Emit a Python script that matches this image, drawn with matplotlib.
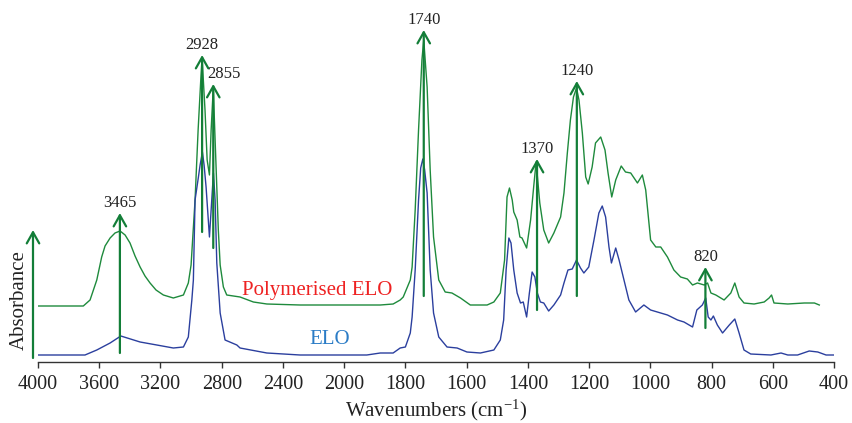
import numpy as np
import matplotlib.pyplot as plt

plt.rcParams['font.family'] = ['Liberation Serif', 'DejaVu Serif']
plt.rcParams['mathtext.default'] = 'regular'

# FTIR spectra (absorbance in arbitrary units, curves offset as in the figure)
poly_wn = [4000, 3704, 3660, 3616, 3584, 3562, 3529, 3497, 3464, 3431, 3399, 3366,
           3333, 3301, 3268, 3229, 3181, 3116,
           3050, 3018, 3000, 2974, 2954, 2935, 2928, 2909, 2895, 2880, 2869, 2855,
           2843, 2822, 2810, 2789, 2767, 2680, 2593, 2505, 2288, 2072, 1882, 1840,
           1817, 1807, 1784, 1778, 1768, 1757, 1746, 1740, 1729, 1719, 1708, 1691,
           1670, 1648, 1620, 1588, 1533, 1511, 1490, 1476, 1468, 1460, 1451, 1446,
           1435, 1426, 1419, 1404, 1391, 1381, 1373, 1361, 1348, 1332, 1315, 1293,
           1282, 1271, 1261, 1251, 1241, 1233, 1222, 1211, 1203, 1190, 1179, 1162,
           1148, 1138, 1126, 1113, 1095, 1081, 1064, 1042, 1026, 1015, 999, 982,
           966, 944, 923, 901, 879, 862, 846, 824, 813, 802, 786, 759, 737, 724,
           710, 694, 661, 628, 612, 604, 596, 551, 497, 464, 448]
poly_abs = [0.56, 0.56, 0.62, 0.82, 1.05, 1.16, 1.24, 1.29, 1.31, 1.27, 1.19, 1.06,
            0.95, 0.86, 0.79, 0.72, 0.67, 0.64,
            0.67, 0.79, 0.97, 1.62, 2.32, 2.87, 3.04, 2.52, 2.02, 1.87, 2.32, 2.74,
            2.22, 1.32, 0.97, 0.75, 0.67, 0.65, 0.60, 0.58, 0.57, 0.57, 0.57, 0.58,
            0.62, 0.65, 0.82, 0.95, 1.52, 2.32, 3.02, 3.22, 2.75, 1.92, 1.25, 0.82,
            0.70, 0.69, 0.64, 0.57, 0.57, 0.60, 0.69, 1.02, 1.65, 1.74, 1.62, 1.50,
            1.42, 1.25, 1.24, 1.14, 1.42, 1.75, 2.00, 1.59, 1.32, 1.19, 1.29, 1.45,
            1.69, 2.09, 2.42, 2.65, 2.74, 2.62, 2.29, 1.85, 1.78, 1.95, 2.19, 2.25,
            2.12, 1.89, 1.65, 1.82, 1.96, 1.90, 1.89, 1.79, 1.87, 1.72, 1.22, 1.15,
            1.15, 1.05, 0.92, 0.85, 0.83, 0.77, 0.79, 0.77, 0.79, 0.69, 0.67, 0.62,
            0.69, 0.79, 0.65, 0.59, 0.58, 0.60, 0.64, 0.67, 0.59, 0.58, 0.59, 0.59,
            0.57]

elo_wn = [4000, 3693, 3616, 3529, 3459, 3333, 3224, 3116, 3050, 3018, 2995, 2985,
          2974, 2952, 2941, 2926, 2915, 2902, 2880, 2869, 2854, 2843, 2832, 2810,
          2778, 2701, 2680, 2505, 2288, 1926, 1882, 1840, 1817, 1800, 1784, 1778,
          1768, 1757, 1750, 1743, 1737, 1729, 1719, 1708, 1691, 1664, 1631, 1599,
          1555, 1511, 1490, 1479, 1471, 1462, 1455, 1446, 1435, 1424, 1415, 1404,
          1395, 1386, 1377, 1369, 1359, 1348, 1332, 1315, 1293, 1282, 1269, 1255,
          1241, 1228, 1217, 1201, 1184, 1168, 1157, 1146, 1135, 1127, 1113, 1102,
          1086, 1070, 1048, 1021, 999, 966, 944, 911, 890, 862, 848, 830, 819,
          811, 802, 794, 781, 764, 742, 724, 710, 694, 672, 606, 573, 551, 519,
          481, 453, 426, 400]
elo_abs = [0.07, 0.07, 0.12, 0.19, 0.26, 0.20, 0.17, 0.14, 0.15, 0.25, 0.62, 0.82,
           1.62, 1.85, 1.97, 2.10, 1.97, 1.75, 1.25, 1.52, 1.89, 1.62, 0.99, 0.49,
           0.22, 0.17, 0.14, 0.09, 0.07, 0.07, 0.09, 0.09, 0.14, 0.15, 0.29, 0.45,
           0.92, 1.62, 1.94, 2.03, 1.92, 1.69, 0.92, 0.49, 0.25, 0.15, 0.14, 0.10,
           0.09, 0.12, 0.22, 0.42, 0.92, 1.24, 1.19, 0.92, 0.69, 0.59, 0.60, 0.45,
           0.69, 0.90, 0.85, 0.69, 0.60, 0.59, 0.51, 0.57, 0.67, 0.79, 0.92, 0.93,
           1.02, 0.94, 0.89, 0.95, 1.22, 1.49, 1.56, 1.45, 1.15, 0.99, 1.14, 1.02,
           0.82, 0.62, 0.50, 0.57, 0.52, 0.49, 0.47, 0.42, 0.40, 0.35, 0.52, 0.57, 0.64,
           0.45, 0.42, 0.46, 0.37, 0.29, 0.37, 0.43, 0.29, 0.12, 0.08, 0.07, 0.09, 0.07, 0.07,
           0.11, 0.10, 0.07, 0.07]

# peak annotations: wavenumber, arrow base, arrow tip
peaks = [3465, 2928, 2855, 1740, 1370, 1240, 820]
peak_base = [0.09, 1.30, 1.14, 0.66, 0.52, 0.66, 0.34]
peak_tip = [1.49, 3.07, 2.78, 3.32, 2.03, 2.81, 0.95]

tick_values = [4000, 3600, 3200, 2800, 2400, 2000, 1800, 1600, 1400, 1200, 1000, 800, 600, 400]


# x axis is compressed by a factor 2 above 2000 cm-1
def forward(w):
    w = np.asarray(w, dtype=float)
    return np.where(w <= 2000, w, 2000 + (w - 2000) / 2)


def inverse(u):
    u = np.asarray(u, dtype=float)
    return np.where(u <= 2000, u, 2000 + (u - 2000) * 2)


fig = plt.figure(figsize=(8.52, 4.23), dpi=100)
ax = fig.add_axes([38 / 852, 61 / 423, 796 / 852, 362 / 423])
ax.set_xscale('function', functions=(forward, inverse))

green = '#1e8a3c'
arrow_green = '#137e38'
blue = '#2b3f9e'

ax.plot(poly_wn, poly_abs, color=green, lw=1.0)
ax.plot(elo_wn, elo_abs, color=blue, lw=1.0)

for wn, base, tip in zip(peaks, peak_base, peak_tip):
    ax.annotate('', xy=(wn, tip), xytext=(wn, base),
                arrowprops=dict(arrowstyle='->,head_length=0.8,head_width=0.45',
                                color=arrow_green, lw=1.6, shrinkA=0, shrinkB=0,
                                mutation_scale=10))
    dx = 8 if wn == 2855 else 0
    ax.annotate(str(wn), xy=(wn, tip), xytext=(dx, 1.5), textcoords='offset points',
                ha='center', va='bottom', fontsize=12, color='#222222')

ax.text(2176, 0.72, 'Polymerised ELO', color='#ee2222', fontsize=15, ha='center', va='center')
ax.text(2092, 0.22, 'ELO', color='#2b7cc6', fontsize=15, ha='center', va='center')

ax.set_xlim(4000, 400)
ax.set_ylim(0, 3.62)
ax.set_xticks(tick_values)
ax.set_xticklabels([str(t) for t in tick_values])
ax.xaxis.set_minor_locator(plt.NullLocator())
ax.set_yticks([])
for side in ['top', 'right', 'left']:
    ax.spines[side].set_visible(False)
ax.spines['bottom'].set_color('#333333')
ax.spines['bottom'].set_linewidth(1.0)
ax.tick_params(axis='x', direction='out', length=4, width=1.0, colors='#333333',
               labelsize=14.5, labelcolor='#222222', pad=5)
ax.set_xlabel('Wavenumbers (cm$^{-1}$)', fontsize=15, color='#222222', labelpad=3)

# absorbance axis arrow outside the plot area
ax.annotate('', xy=(33, 193), xytext=(33, 65), xycoords='figure pixels',
            textcoords='figure pixels',
            arrowprops=dict(arrowstyle='->,head_length=0.8,head_width=0.45',
                            color=arrow_green, lw=1.6, shrinkA=0, shrinkB=0,
                            mutation_scale=10))
fig.text(19 / 852, 123 / 423, 'Absorbance', rotation=90, ha='center', va='center',
         fontsize=15, color='#222222')

fig.savefig('out.png', dpi=100)
